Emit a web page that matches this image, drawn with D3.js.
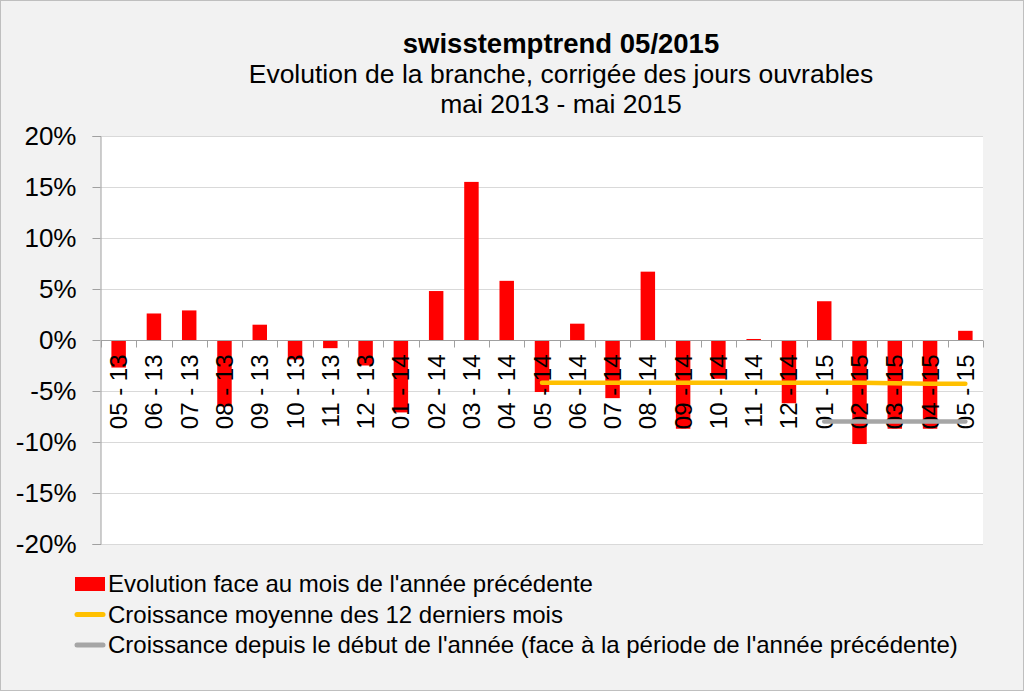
<!DOCTYPE html>
<html>
<head>
<meta charset="utf-8">
<script src="https://cdn.jsdelivr.net/npm/d3@7"></script>
<style>
  html, body { margin: 0; padding: 0; background: #f2f2f2; }
  svg { display: block; font-family: "Liberation Sans", Arial, sans-serif; }
</style>
</head>
<body>
<div id="chart"></div>
<script>
// months shown on the category axis
const months = ['05 - 13', '06 - 13', '07 - 13', '08 - 13', '09 - 13', '10 - 13', '11 - 13', '12 - 13',
  '01 - 14', '02 - 14', '03 - 14', '04 - 14', '05 - 14', '06 - 14', '07 - 14', '08 - 14', '09 - 14',
  '10 - 14', '11 - 14', '12 - 14', '01 - 15', '02 - 15', '03 - 15', '04 - 15', '05 - 15'];

// year-on-year change, in %
const evolution = [-2.7, 2.6, 2.9, -6.5, 1.5, -1.9, -0.8, -2.5,
  -7.1, 4.8, 15.5, 5.8, -5.1, 1.6, -5.7, 6.7, -8.7,
  -3.8, 0.1, -6.2, 3.8, -10.2, -8.7, -8.7, 0.9];

// 12-month average growth (from 05 - 14)
const avgMonths = ['05 - 14', '06 - 14', '07 - 14', '08 - 14', '09 - 14', '10 - 14', '11 - 14',
  '12 - 14', '01 - 15', '02 - 15', '03 - 15', '04 - 15', '05 - 15'];
const avgValues = [-4.2, -4.2, -4.2, -4.2, -4.2, -4.2, -4.2, -4.2, -4.2, -4.2, -4.25, -4.3, -4.3];

// year-to-date growth
const ytdMonths = ['01 - 15', '02 - 15', '03 - 15', '04 - 15', '05 - 15'];
const ytdValues = [-8.0, -8.0, -8.0, -8.0, -8.0];

const yTicks = [-20, -15, -10, -5, 0, 5, 10, 15, 20];

const titleLines = ['swisstemptrend 05/2015', 'Evolution de la branche, corrigée des jours ouvrables', 'mai 2013 - mai 2015'];
const legendItems = [
  { label: "Evolution face au mois de l'année précédente", type: 'bar', color: '#ff0000' },
  { label: 'Croissance moyenne des 12 derniers mois', type: 'line', color: '#ffc000' },
  { label: "Croissance depuis le début de l'année (face à la période de l'année précédente)", type: 'line', color: '#a6a6a6' }
];

const W = 1024, H = 691;
const plot = { left: 101, right: 983, top: 136, bottom: 544 };

const svg = d3.select('#chart').append('svg').attr('width', W).attr('height', H);

svg.append('rect').attr('x', 0.5).attr('y', 0.5).attr('width', W - 1).attr('height', H - 1)
  .attr('fill', '#f2f2f2').attr('stroke', '#bfbfbf');

// titles
svg.append('text').attr('x', 561).attr('y', 53).attr('text-anchor', 'middle')
  .attr('font-size', 27.5).attr('font-weight', 'bold').attr('fill', '#000').text(titleLines[0]);
svg.append('text').attr('x', 561).attr('y', 83).attr('text-anchor', 'middle')
  .attr('font-size', 26.5).attr('fill', '#000').text(titleLines[1]);
svg.append('text').attr('x', 561).attr('y', 113).attr('text-anchor', 'middle')
  .attr('font-size', 26.5).attr('fill', '#000').text(titleLines[2]);

const x = d3.scaleBand().domain(months).range([plot.left, plot.right]).paddingInner(0.59).paddingOuter(0.295);
const xc = d => x(d) + x.bandwidth() / 2;
const y = d3.scaleLinear().domain([-20, 20]).range([plot.bottom, plot.top]);

// plot area
svg.append('rect').attr('x', plot.left).attr('y', plot.top)
  .attr('width', plot.right - plot.left).attr('height', plot.bottom - plot.top).attr('fill', '#fff');

// gridlines
svg.append('g').selectAll('line').data(yTicks.filter(t => t !== 0)).join('line')
  .attr('x1', plot.left).attr('x2', plot.right)
  .attr('y1', d => Math.round(y(d)) + 0.5).attr('y2', d => Math.round(y(d)) + 0.5)
  .attr('stroke', '#d9d9d9').attr('stroke-width', 1);

// y axis
const yAxis = d3.axisLeft(y).tickValues(yTicks).tickFormat(d => d + '%').tickSize(8).tickPadding(16);
const gy = svg.append('g').attr('transform', `translate(${plot.left - 0.5},0)`).call(yAxis);
gy.select('.domain').attr('stroke', '#a0a0a0');
gy.selectAll('.tick line').attr('stroke', '#a0a0a0');
gy.selectAll('.tick text').attr('font-size', 26).attr('fill', '#000')
  .attr('font-family', '"Liberation Sans", Arial, sans-serif');

// bars
svg.append('g').selectAll('rect').data(evolution).join('rect')
  .attr('x', (d, i) => x(months[i]))
  .attr('width', x.bandwidth())
  .attr('y', d => y(Math.max(0, d)))
  .attr('height', d => Math.abs(y(d) - y(0)))
  .attr('fill', '#ff0000');

// zero line with category ticks
const y0 = Math.round(y(0)) + 0.5;
svg.append('line').attr('x1', plot.left).attr('x2', plot.right).attr('y1', y0).attr('y2', y0)
  .attr('stroke', '#a0a0a0');
const step = x.step();
svg.append('g').selectAll('line').data(d3.range(months.length + 1)).join('line')
  .attr('x1', i => Math.round(plot.left + i * step) + 0.5)
  .attr('x2', i => Math.round(plot.left + i * step) + 0.5)
  .attr('y1', y0).attr('y2', y0 + 7)
  .attr('stroke', '#a0a0a0');

// category labels (rotated)
svg.append('g').selectAll('text').data(months).join('text')
  .attr('transform', d => `translate(${xc(d) + 8.5},${y0 + 14}) rotate(-90)`)
  .attr('text-anchor', 'end')
  .attr('font-size', 24).attr('fill', '#000')
  .text(d => d);

// lines
const line = d3.line().x(d => xc(d[0])).y(d => y(d[1]));
svg.append('path').datum(avgMonths.map((m, i) => [m, avgValues[i]]))
  .attr('d', line).attr('fill', 'none').attr('stroke', '#ffc000').attr('stroke-width', 4.5)
  .attr('stroke-linecap', 'round');
svg.append('path').datum(ytdMonths.map((m, i) => [m, ytdValues[i]]))
  .attr('d', line).attr('fill', 'none').attr('stroke', '#a6a6a6').attr('stroke-width', 4.5)
  .attr('stroke-linecap', 'round');

// legend
const lg = svg.append('g').selectAll('g').data(legendItems).join('g')
  .attr('transform', (d, i) => `translate(75,${584 + i * 30.5})`);
lg.filter(d => d.type === 'bar').append('rect')
  .attr('x', 0).attr('y', -7).attr('width', 30).attr('height', 14).attr('fill', d => d.color);
lg.filter(d => d.type === 'line').append('line')
  .attr('x1', 2).attr('x2', 28).attr('y1', 0).attr('y2', 0)
  .attr('stroke', d => d.color).attr('stroke-width', 5).attr('stroke-linecap', 'round');
lg.append('text').attr('x', 33).attr('y', 0).attr('dy', '0.35em')
  .attr('font-size', 24).attr('fill', '#000').text(d => d.label);
</script>
</body>
</html>
